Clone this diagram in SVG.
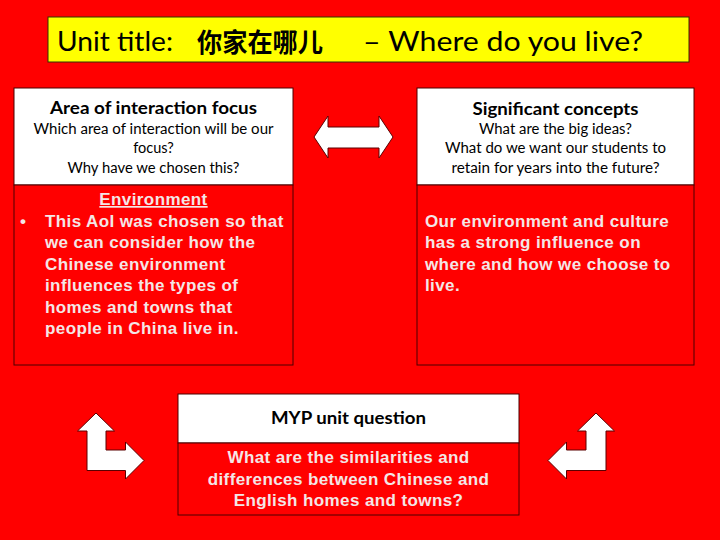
<svg xmlns="http://www.w3.org/2000/svg" width="720" height="540" viewBox="0 0 720 540">
<defs>
<style>
.bg{fill:#ff0000}
.box-w{fill:#ffffff;stroke:#4a0000;stroke-width:1}
.box-r{fill:#ff0000;stroke:#4a0000;stroke-width:1}
.title-box{fill:#ffff00;stroke:#333300;stroke-width:1}
.title{font-family:Lato,"Liberation Sans",sans-serif;font-size:26px;fill:#000}
.cjk{font-family:"Noto Sans CJK SC",sans-serif;font-weight:700;font-size:26px;fill:#000}
.head{font-family:Lato,"Liberation Sans",sans-serif;font-weight:700;font-size:16.5px;fill:#000;text-anchor:middle}
.sub{font-family:Lato,"Liberation Sans",sans-serif;font-size:14.5px;fill:#000;text-anchor:middle}
.body{font-family:"Liberation Sans",Arial,sans-serif;font-weight:700;font-size:17px;letter-spacing:0.4px;fill:#f4e6e6}
.mid{text-anchor:middle}
.arrow{fill:#ffffff;stroke:#5a0000;stroke-width:1;stroke-linejoin:miter}
</style>
</defs>
<rect class="bg" x="0" y="0" width="720" height="540"/>

<g id="title">
<rect class="title-box" x="48" y="17" width="641" height="45"/>
<text class="title" y="51"><tspan x="57" textLength="116" lengthAdjust="spacingAndGlyphs">Unit title:</tspan><tspan class="cjk" x="197" y="52" textLength="126" lengthAdjust="spacingAndGlyphs">你家在哪儿</tspan><tspan x="363" y="51" textLength="280" lengthAdjust="spacingAndGlyphs">– Where do you live?</tspan></text>
</g>

<g id="aoi-focus">
<rect class="box-w" x="14" y="88" width="279" height="97"/>
<rect class="box-r" x="14" y="185" width="279" height="180"/>
<text class="head" x="153.5" y="114" textLength="207" lengthAdjust="spacingAndGlyphs">Area of interaction focus</text>
<text class="sub" x="153.5" y="134" textLength="240" lengthAdjust="spacingAndGlyphs">Which area of interaction will be our</text>
<text class="sub" x="153.5" y="153">focus?</text>
<text class="sub" x="153.5" y="173" textLength="172" lengthAdjust="spacingAndGlyphs">Why have we chosen this?</text>
<text class="body mid" x="153.5" y="205" text-decoration="underline">Environment</text>
<text class="body" x="20" y="227">•</text>
<text class="body" x="45" y="227">This AoI was chosen so that</text>
<text class="body" x="45" y="248">we can consider how the</text>
<text class="body" x="45" y="269.5">Chinese environment</text>
<text class="body" x="45" y="291">influences the types of</text>
<text class="body" x="45" y="312.5">homes and towns that</text>
<text class="body" x="45" y="334">people in China live in.</text>
</g>

<g id="significant-concepts">
<rect class="box-w" x="417" y="88" width="277" height="97"/>
<rect class="box-r" x="417" y="185" width="277" height="180"/>
<text class="head" x="555.5" y="115" textLength="166" lengthAdjust="spacingAndGlyphs">Significant concepts</text>
<text class="sub" x="555.5" y="134" textLength="153" lengthAdjust="spacingAndGlyphs">What are the big ideas?</text>
<text class="sub" x="555.5" y="153" textLength="221" lengthAdjust="spacingAndGlyphs">What do we want our students to</text>
<text class="sub" x="555.5" y="173" textLength="208" lengthAdjust="spacingAndGlyphs">retain for years into the future?</text>
<text class="body" x="425" y="227">Our environment and culture</text>
<text class="body" x="425" y="248">has a strong influence on</text>
<text class="body" x="425" y="269.5">where and how we choose to</text>
<text class="body" x="425" y="291">live.</text>
</g>

<g id="myp-question">
<rect class="box-w" x="178" y="394" width="341" height="49"/>
<rect class="box-r" x="178" y="443" width="341" height="72"/>
<text class="head" x="348.5" y="424" textLength="155" lengthAdjust="spacingAndGlyphs">MYP unit question</text>
<text class="body mid" x="348.5" y="463">What are the similarities and</text>
<text class="body mid" x="348.5" y="485">differences between Chinese and</text>
<text class="body mid" x="348.5" y="506">English homes and towns?</text>
</g>

<g id="connectors">
<path class="arrow" d="M314,137 L328,116 L328,127 L379,127 L379,116 L393,137 L379,158 L379,148 L328,148 L328,158 Z"/>
<path class="arrow" d="M96,413 L114.5,431 L106,431 L106,450 L125.5,450 L125.5,442 L144,460.5 L125.5,479 L125.5,470.5 L87,470.5 L87,431 L77.5,431 Z"/>
<path class="arrow" d="M596,413 L614.5,431 L606,431 L606,470.5 L566.5,470.5 L566.5,479 L548,460.5 L566.5,442 L566.5,450 L586,450 L586,431 L577.5,431 Z"/>
</g>
</svg>
